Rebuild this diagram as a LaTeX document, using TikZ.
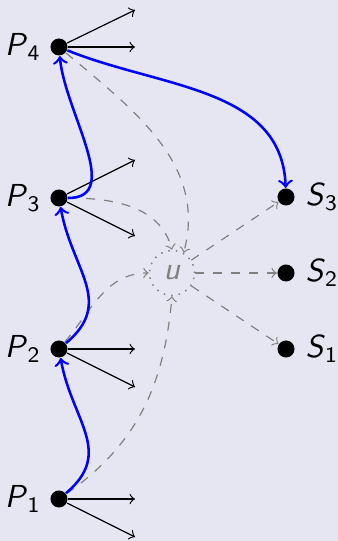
\documentclass[tikz,border=0pt]{standalone}
\usepackage{xcolor}
\definecolor{bg}{RGB}{230,230,242}
\newcommand{\lbl}[2]{\textsf{\textit{#1}}\raisebox{-1.7pt}{\textsf{\fontsize{7.4}{8}\selectfont #2}}}
\begin{document}
\begin{tikzpicture}[x=0.3333pt,y=0.3333pt,
  dot/.style={circle,fill=black,inner sep=0pt,minimum size=5.67pt},
  outarrow/.style={->,line width=0.4pt},
  chain/.style={->,blue,line width=0.85pt},
  link/.style={->,gray,dashed,line width=0.4pt},
  lab/.style={label distance=1pt},
  font=\fontsize{10.6}{12}\selectfont]
\fill[bg] (0,0) rectangle (338,541);
\useasboundingbox (0,0) rectangle (338,541);
% P nodes
\node[dot,lab,label=left:\lbl{P}{4}] (P4) at (59,494) {};
\node[dot,lab,label=left:\lbl{P}{3}] (P3) at (59,343) {};
\node[dot,lab,label=left:\lbl{P}{2}] (P2) at (59,192) {};
\node[dot,lab,label=left:\lbl{P}{1}] (P1) at (59,42) {};
% S nodes
\node[dot,lab,label=right:\lbl{S}{3}] (S3) at (286,344) {};
\node[dot,lab,label=right:\lbl{S}{2}] (S2) at (286,268) {};
\node[dot,lab,label=right:\lbl{S}{1}] (S1) at (286,192) {};
% u node
\node[circle,draw=gray,dotted,line width=0.5pt,minimum size=15pt,inner sep=0pt,text=gray] (u) at (172,268) {\textsf{\textit{u}}};
% free ends
\coordinate (a4) at (135,531); \coordinate (b4) at (135,494);
\coordinate (a3) at (135,381); \coordinate (b3) at (135,305);
\coordinate (a2) at (135,192); \coordinate (b2) at (135,154);
\coordinate (a1) at (135,42);  \coordinate (b1) at (135,4);
\draw[outarrow] (P4) -- (a4); \draw[outarrow] (P4) -- (b4);
\draw[outarrow] (P3) -- (a3); \draw[outarrow] (P3) -- (b3);
\draw[outarrow] (P2) -- (a2); \draw[outarrow] (P2) -- (b2);
\draw[outarrow] (P1) -- (a1); \draw[outarrow] (P1) -- (b1);
% dashed links to u
\draw[link] (P4) to[out=-40,in=75] (u.60);
\draw[link] (P3) to[out=0,in=105] (u.north);
\draw[link] (P2) to[out=50,in=180] (u.west);
\draw[link] (P1) to[out=35,in=-95] (u.south);
\draw[link] (u) -- (S3);
\draw[link] (u) -- (S2);
\draw[link] (u) -- (S1);
% blue chain
\draw[chain] (P1) to[out=40,in=-80,looseness=1.2] (P2);
\draw[chain] (P2) to[out=40,in=-80,looseness=1.2] (P3);
\draw[chain] (P3) to[out=0,in=-85] (P4);
\draw[chain] (P4) to[out=-22,in=92] (S3);
\end{tikzpicture}
\end{document}
